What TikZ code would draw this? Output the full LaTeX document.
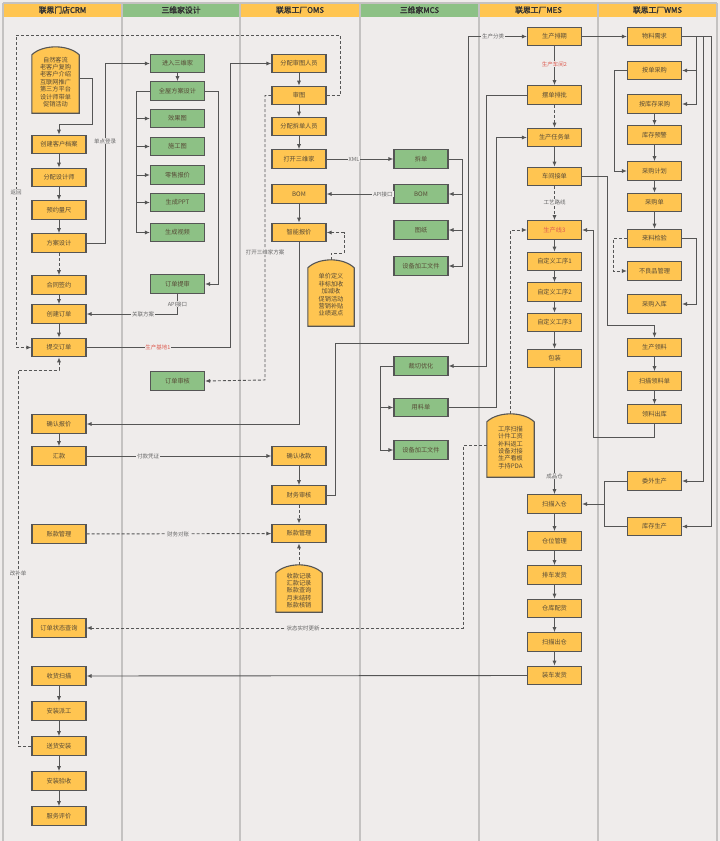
\documentclass[tikz,border=0pt]{standalone}
\usepackage{fontspec}
\setmainfont{Noto Sans CJK SC}[AutoFakeBold=2]
\usetikzlibrary{arrows.meta}
\definecolor{bg}{HTML}{EFECEB}
\definecolor{yel}{HTML}{FFC551}
\definecolor{grn}{HTML}{8DC185}
\definecolor{edgec}{HTML}{555555}
\definecolor{colline}{HTML}{C4C2C1}
\definecolor{txt}{HTML}{574A36}
\definecolor{lbl}{HTML}{666666}
\definecolor{redt}{HTML}{DD5A4E}
\tikzset{
 box/.style={draw=edgec, line width=1.1pt, minimum width=54pt, minimum height=18.5pt, inner sep=0pt, font=\fontsize{6.2}{7}\selectfont, text=txt},
 yb/.style={box, fill=yel},
 gb/.style={box, fill=grn},
 conn/.style={draw=edgec, line width=0.9pt, -{Latex[length=5pt,width=4pt]}},
 dconn/.style={conn, dash pattern=on 3pt off 2pt},
 plainln/.style={draw=edgec, line width=0.9pt},
 lab/.style={fill=bg, inner sep=0.8pt, font=\fontsize{5.5}{6}\selectfont, text=lbl},
 hdr/.style={font=\bfseries\fontsize{7.8}{9}\selectfont, text=black!80},
 docbox/.style={draw=none, minimum width=#1, inner sep=0pt},
 doctext/.style={align=center, font=\fontsize{6.2}{7.4}\selectfont, text=txt, inner sep=0pt},
}
\newcommand{\mydocshape}[1]{\draw[draw=edgec,line width=1.1pt,fill=yel] (#1.south west) -- ([yshift=-8pt]#1.north west) .. controls ([xshift=11pt,yshift=2.6pt]#1.north west) and ([xshift=-11pt,yshift=2.6pt]#1.north east) .. ([yshift=-8pt]#1.north east) -- (#1.south east) -- cycle;}
\begin{document}
\begin{tikzpicture}[x=1pt,y=-1pt]
\useasboundingbox (0,0) rectangle (720,841);
\fill[bg] (0,0) rectangle (720,841);
% headers
\fill[yel] (3,3) rectangle (122,17);
\fill[grn] (122,3) rectangle (240,17);
\fill[yel] (240,3) rectangle (360,17);
\fill[grn] (360,3) rectangle (479,17);
\fill[yel] (479,3) rectangle (598,17);
\fill[yel] (598,3) rectangle (717,17);
\draw[colline, line width=1.2pt] (3,3) -- (717,3);
\foreach \xx in {3,122,240,360,479,598,717} \draw[colline, line width=1.3pt] (\xx,3) -- (\xx,841);
\node[hdr] (h1) at (62.5,10) {联思门店CRM};
\node[hdr] (h2) at (181,10) {三维家设计};
\node[hdr] (h3) at (300,10) {联思工厂OMS};
\node[hdr] (h4) at (419.5,10) {三维家MCS};
\node[hdr] (h5) at (538.5,10) {联思工厂MES};
\node[hdr] (h6) at (657.5,10) {联思工厂WMS};

% ---------- CRM ----------
\node[docbox=47pt, minimum height=66pt] (c0) at (55.5,80) {};
\mydocshape{c0}
\node[doctext] (c0t) at ([yshift=-2pt]c0.center) {自然客流\\老客户复购\\老客户介绍\\互联网推广\\第三方平台\\设计师带单\\促销活动};
\node[yb] (c1) at (59,144.5) {创建客户档案};
\node[yb] (c2) at (59,177.5) {分配设计师};
\node[yb] (c3) at (59,210) {预约量尺};
\node[yb] (c4) at (59,243) {方案设计};
\node[yb] (c5) at (59,285) {合同签约};
\node[yb] (c6) at (59,314) {创建订单};
\node[yb] (c7) at (59,347.5) {提交订单};
\node[yb] (c8) at (59,424) {确认报价};
\node[yb] (c9) at (59,456) {汇款};
\node[yb] (c10) at (59,534) {账款管理};
\node[yb] (c11) at (59,628) {订单状态查询};
\node[yb] (c12) at (59,676) {收货扫描};
\node[yb] (c13) at (59,711) {安装派工};
\node[yb] (c14) at (59,746) {送货安装};
\node[yb] (c15) at (59,781) {安装验收};
\node[yb] (c16) at (59,816) {服务评价};

% ---------- 3D design ----------
\node[gb] (d1) at (177.5,63.5) {进入三维家};
\node[gb] (d2) at (177.5,91) {全屋方案设计};
\node[gb] (d3) at (177.5,118.5) {效果图};
\node[gb] (d4) at (177.5,146.5) {施工图};
\node[gb] (d5) at (177.5,175) {零售报价};
\node[gb] (d6) at (177.5,202.5) {生成PPT};
\node[gb] (d7) at (177.5,232.5) {生成视频};
\node[gb] (d8) at (177.5,284) {订单提审};
\node[gb] (d9) at (177.5,381) {订单审核};

% ---------- OMS ----------
\node[yb] (o1) at (299,63.5) {分配审图人员};
\node[yb] (o2) at (299,95.5) {审图};
\node[yb] (o3) at (299,126.5) {分配拆单人员};
\node[yb] (o4) at (299,159) {打开三维家};
\node[yb] (o5) at (299,194) {BOM};
\node[yb] (o6) at (299,232.5) {智能报价};
\node[docbox=46pt, minimum height=66pt] (o7) at (331,293) {};
\mydocshape{o7}
\node[doctext] (o7t) at ([yshift=-2pt]o7.center) {单价定义\\非标加收\\加减收\\促销活动\\营销补贴\\业绩返点};
\node[yb] (o8) at (299,456) {确认收款};
\node[yb] (o9) at (299,495) {财务审核};
\node[yb] (o10) at (299,533.5) {账款管理};
\node[docbox=46pt, minimum height=47pt] (o11) at (299,588.5) {};
\mydocshape{o11}
\node[doctext] (o11t) at ([yshift=-2pt]o11.center) {收款记录\\汇款记录\\账款查询\\月末结转\\账款核销};

% ---------- MCS ----------
\node[gb] (m1) at (421,159) {拆单};
\node[gb] (m2) at (421,194) {BOM};
\node[gb] (m3) at (421,230) {图纸};
\node[gb] (m4) at (421,266) {设备加工文件};
\node[gb] (m5) at (421,366) {裁切优化};
\node[gb] (m6) at (421,407.5) {用料单};
\node[gb] (m7) at (421,450) {设备加工文件};

% ---------- MES ----------
\node[yb] (e1) at (554.5,36.5) {生产排期};
\node[yb] (e2) at (554.5,95) {摆单排批};
\node[yb] (e3) at (554.5,137.5) {生产任务单};
\node[yb] (e4) at (554.5,176.5) {车间接单};
\node[yb, text=redt] (e5) at (554.5,230) {生产线3};
\node[yb] (e6) at (554.5,261.5) {自定义工序1};
\node[yb] (e7) at (554.5,292) {自定义工序2};
\node[yb] (e8) at (554.5,322.5) {自定义工序3};
\node[yb] (e9) at (554.5,358.5) {包装};
\node[docbox=47pt, minimum height=63pt] (e10) at (510.5,445.5) {};
\mydocshape{e10}
\node[doctext] (e10t) at ([yshift=-2pt]e10.center) {工序扫描\\计件工资\\补料返工\\设备对接\\生产看板\\手持PDA};
\node[yb] (e11) at (554.5,504) {扫描入仓};
\node[yb] (e12) at (554.5,541) {仓位管理};
\node[yb] (e13) at (554.5,575) {排车发货};
\node[yb] (e14) at (554.5,608.5) {仓库配货};
\node[yb] (e15) at (554.5,642) {扫描出仓};
\node[yb] (e16) at (554.5,675.5) {装车发货};

% ---------- WMS ----------
\node[yb] (w1) at (654.5,36.5) {物料需求};
\node[yb] (w2) at (654.5,70.5) {按单采购};
\node[yb] (w3) at (654.5,104) {按库存采购};
\node[yb] (w4) at (654.5,135) {库存预警};
\node[yb] (w5) at (654.5,171) {采购计划};
\node[yb] (w6) at (654.5,202.5) {采购单};
\node[yb] (w7) at (654.5,238.5) {来料检验};
\node[yb] (w8) at (654.5,271) {不良品管理};
\node[yb] (w9) at (654.5,304) {采购入库};
\node[yb] (w10) at (654.5,347.5) {生产领料};
\node[yb] (w11) at (654.5,381) {扫描领料单};
\node[yb] (w12) at (654.5,414) {领料出库};
\node[yb] (w13) at (654.5,481) {委外生产};
\node[yb] (w14) at (654.5,526.5) {库存生产};

% ---------- connectors: CRM ----------
\draw[conn] (79,78) -- (92,78) -- (92,124) -- (59,124) -- (c1.north);
\draw[conn] (c1) -- (c2);
\draw[conn] (c2) -- (c3);
\draw[conn] (c3) -- (c4);
\draw[dconn] (c4) -- (c5);
\draw[conn] (c5) -- (c6);
\draw[conn] (c6) -- (c7);
\draw[conn] (c8) -- (c9);
\draw[conn] (c12) -- (c13);
\draw[conn] (c13) -- (c14);
\draw[conn] (c14) -- (c15);
\draw[conn] (c15) -- (c16);
% return dashed loop
\draw[dconn] (o2.east) -- (340,95.5) -- (340,35) -- (16,35) -- (16,347.5) -- (c7.west);
\node[lab] (l1) at (16,192) {返回};
% change order dashed
\draw[dconn] (c14.west) -- (18,746) -- (18,370) -- (59,370) -- (c7.south);
\node[lab] (l2) at (18,573) {改补单};
% single sign-on
\draw[conn] (c4.east) -- (105,243) -- (105,63.5) -- (d1.west);
\node[lab] (l3) at (105,141) {单点登录};

% ---------- 3D design ----------
\draw[conn] (d1) -- (d2);
\draw[conn] (d2.west) -- (136,91) -- (136,232.5) -- (d7.west);
\draw[conn] (136,118.5) -- (d3.west);
\draw[conn] (136,146.5) -- (d4.west);
\draw[conn] (136,175) -- (d5.west);
\draw[conn] (136,202.5) -- (d6.west);
\draw[conn] (d2.east) -- (218,91) -- (218,284) -- (d8.east);
\draw[conn] (d8.south) -- (177.5,314) -- (c6.east);
\node[lab] (l4) at (177.5,304) {API接口};
\node[lab] (l5) at (143,314) {关联方案};
\draw[conn] (c7.east) -- (230,347.5) -- (230,63.5) -- (o1.west);
\node[lab, text=redt] (l6) at (158,347.5) {生产基地1};
\draw[dconn] (o2.west) -- (265,95.5) -- (265,380) -- (d9.east);
\node[lab] (l7) at (265,252) {打开三维家方案};

% ---------- OMS ----------
\draw[conn] (o1) -- (o2);
\draw[conn] (o2) -- (o3);
\draw[conn] (o3) -- (o4);
\draw[conn] (o5) -- (o6);
\draw[conn] (o4) -- (m1);
\node[lab] (l8) at (354,159) {XML};
\draw[conn] (m2) -- (o5);
\node[lab] (l9) at (383,194) {API接口};
\draw[dconn] (o7.north) -- (331,253) -- (344,253) -- (344,232.5) -- (o6.east);
\draw[conn] (o6.south) -- (299,424) -- (c8.east);
\draw[conn] (c9) -- (o8);
\node[lab] (l10) at (148,456) {付款凭证};
\draw[conn] (o8) -- (o9);
\draw[dconn] (o9) -- (o10);
\draw[dconn] (o11.north) -- (o10.south);
\draw[dconn] (c10) -- (o10);
\node[lab] (l11) at (178,534) {财务对账};
\draw[conn] (o9.east) -- (335,495) -- (335,343) -- (468,343) -- (468,36.5) -- (e1.west);
\node[lab] (l12) at (493,36.5) {生产分类};

% ---------- MCS ----------
\draw[conn] (m1.east) -- (462,159) -- (462,266) -- (m4.east);
\draw[conn] (462,194) -- (m2.east);
\draw[conn] (462,230) -- (m3.east);
\draw[conn] (m5.west) -- (380,366) -- (380,450) -- (m7.west);
\draw[conn] (380,407.5) -- (m6.west);

% ---------- MES ----------
\draw[conn] (e1) -- (e2);
\node[lab, text=redt] (l13) at (554.5,64) {生产车间2};
\draw[dconn] (e2) -- (e3);
\draw[conn] (e3) -- (e4);
\draw[dconn] (e4) -- (e5);
\node[lab] (l14) at (554.5,202) {工艺路线};
\draw[conn] (e2.west) -- (486,95) -- (486,366) -- (m5.east);
\draw[conn] (m6.east) -- (496,407.5) -- (496,137.5) -- (e3.west);
\draw[dconn] (e10.north) -- (510.5,230) -- (e5.west);
\draw[conn] (e5) -- (e6);
\draw[conn] (e6) -- (e7);
\draw[conn] (e7) -- (e8);
\draw[conn] (e8) -- (e9);
\draw[conn] (e9) -- (e11);
\node[lab] (l15) at (554.5,476) {成品仓};
\draw[conn] (e11) -- (e12);
\draw[conn] (e12) -- (e13);
\draw[conn] (e13) -- (e14);
\draw[conn] (e14) -- (e15);
\draw[conn] (e15) -- (e16);
\draw[conn] (e16.west) -- (c12.east);
\draw[dconn] (e10.west) -- (463,445.5) -- (463,628) -- (c11.east);
\node[lab] (l16) at (303,628) {状态实时更新};

% ---------- WMS ----------
\draw[conn] (e1) -- (w1);
\draw[conn] (w1.east) -- (696,36.5) -- (696,104) -- (w3.east);
\draw[conn] (696,70.5) -- (w2.east);
\draw[conn] (w1.east) -- (703,36.5) -- (703,481) -- (w13.east);
\draw[conn] (w1.east) -- (711,36.5) -- (711,526.5) -- (w14.east);
\draw[conn] (w2.west) -- (614,70.5) -- (614,171) -- (w5.west);
\draw[conn] (w3) -- (w4);
\draw[conn] (w4) -- (w5);
\draw[conn] (w5) -- (w6);
\draw[conn] (w6) -- (w7);
\draw[dconn] (w7.west) -- (613,238.5) -- (613,271) -- (w8.west);
\draw[conn] (w7.east) -- (696,238.5) -- (696,304) -- (w9.east);
\draw[conn] (e4.east) -- (607,176.5) -- (607,325) -- (654.5,325) -- (w10.north);
\draw[conn] (w10) -- (w11);
\draw[conn] (w11) -- (w12);
\draw[conn] (w12.south) -- (654.5,437) -- (593,437) -- (593,230) -- (e5.east);
\draw[plainln] (w13.west) -- (604,481) -- (604,526.5) -- (w14.west);
\draw[conn] (604,504) -- (e11.east);
\end{tikzpicture}
\end{document}
